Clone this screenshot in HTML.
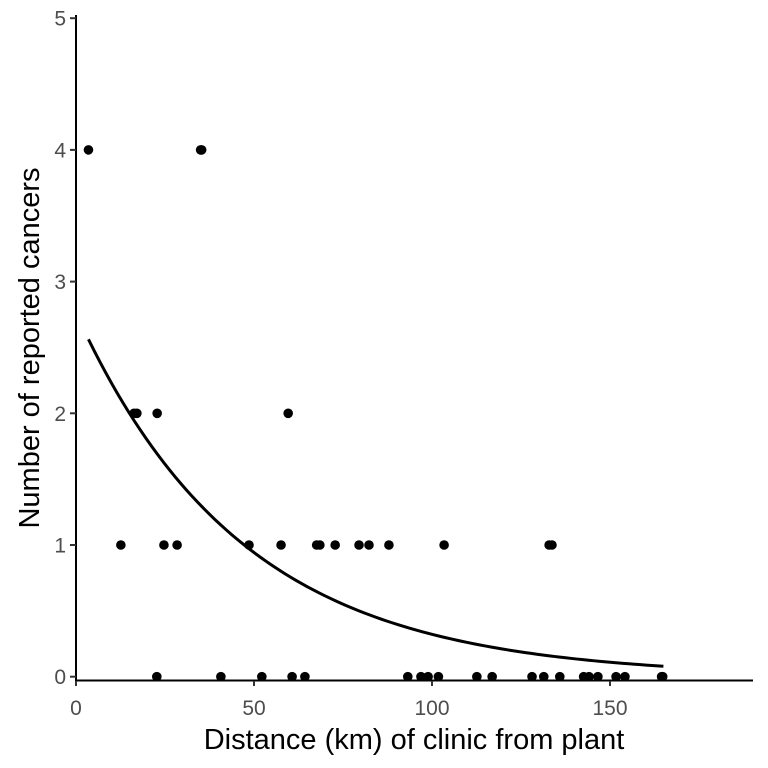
<!DOCTYPE html>
<html><head><meta charset="utf-8"><style>
body{margin:0;background:#fff}
svg{display:block;font-family:"Liberation Sans",Arial,sans-serif}
</style></head><body>
<svg id="chart" width="768" height="768"></svg>
<script>
const xZero=[22.7,40.7,52.2,60.7,64.3,93.2,96.9,98.9,101.8,112.6,116.9,128.1,131.4,135.9,142.6,144.1,146.6,151.7,154.2,164.5,164.8];
const xOne=[12.6,24.7,28.4,48.6,57.6,67.6,68.5,72.8,79.5,82.3,87.9,103.4,132.9,133.7];
const xTwo=[16.3,17.1,22.8,59.6];
const xFour=[3.5,35.0,35.3];
const fitA=1.016, fitB=-0.0215, fitFrom=3.5, fitTo=165;
const xTicks=[0,50,100,150];
const yTicks=[0,1,2,3,4,5];

const NS="http://www.w3.org/2000/svg";
const svg=document.getElementById('chart');
const sx=v=>76+v*3.56;
const sy=v=>676.7-v*131.7;
function mk(t,a,parent){const e=document.createElementNS(NS,t);for(const k in a)e.setAttribute(k,a[k]);(parent||svg).appendChild(e);return e;}

const ya=mk('line',{x1:76,y1:15,x2:76,y2:681,stroke:'#000','stroke-width':2});


const xa=mk('line',{x1:75,y1:680.5,x2:753,y2:680.5,stroke:'#000','stroke-width':2});



xTicks.forEach(t=>{
  const l=mk('line',{x1:sx(t),y1:681,x2:sx(t),y2:686,stroke:'#333','stroke-width':2});
  
  
  const tx=mk('text',{x:sx(t),y:715,'text-anchor':'middle','font-size':21,fill:'#4d4d4d'});
  tx.textContent=t;
  
  
});
yTicks.forEach(t=>{
  const l=mk('line',{x1:70,y1:sy(t),x2:76,y2:sy(t),stroke:'#333','stroke-width':2});
  
  
  const tx=mk('text',{x:66,y:sy(t)+7.5,'text-anchor':'end','font-size':21,fill:'#4d4d4d'});
  tx.textContent=t;
  
  
});

let d='';
for(let i=0;i<=100;i++){const x=fitFrom+(fitTo-fitFrom)*i/100;const y=Math.exp(fitA+fitB*x);d+=(i?'L':'M')+sx(x).toFixed(2)+','+sy(y).toFixed(2);}
const c=mk('path',{d:d,fill:'none',stroke:'#000','stroke-width':3});



[[xZero,0],[xOne,1],[xTwo,2],[xFour,4]].forEach(([arr,yv])=>{
  arr.forEach(x=>{
    const p=mk('circle',{cx:sx(x),cy:sy(yv),r:4.8,fill:'#000'});
    
    
  });
});

const xt=mk('text',{x:414,y:749,'text-anchor':'middle','font-size':29,fill:'#000'});
xt.textContent='Distance (km) of clinic from plant';


const yt=mk('text',{x:0,y:0,'text-anchor':'middle','font-size':29,fill:'#000',transform:'translate(39,348) rotate(-90)'});
yt.textContent='Number of reported cancers';


</script>
</body></html>
